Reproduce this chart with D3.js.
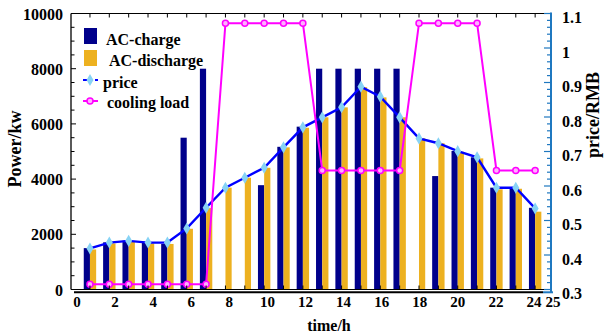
<!DOCTYPE html>
<html>
<head>
<meta charset="utf-8">
<script src="https://cdn.jsdelivr.net/npm/d3@7"></script>
<style>
  body { margin: 0; background: #fff; }
  svg text { font-family: "Liberation Serif", "Times New Roman", serif; font-weight: bold; }
</style>
</head>
<body>
<div id="chart"></div>
<script>
// data
const hours = d3.range(1, 25);
const acCharge = [1500, 1710, 1770, 1710, 1650, 5500, 8000, 0, 0, 3780, 5170, 5900,
  8000, 8000, 8000, 8000, 8000, 0, 4110, 5020, 4790, 3690, 3690, 2960];
const acDischarge = [1450, 1670, 1730, 1670, 1650, 2200, 2950, 3690, 4050, 4410, 5150, 5860,
  6240, 6600, 7330, 6960, 6240, 5480, 5300, 4990, 4750, 3630, 3650, 2820];
const price = [0.419, 0.436, 0.441, 0.436, 0.436, 0.477, 0.537, 0.595, 0.624, 0.653, 0.712, 0.770,
  0.799, 0.828, 0.888, 0.859, 0.799, 0.738, 0.724, 0.701, 0.683, 0.595, 0.595, 0.535];
const coolingLoad = [0.315, 0.315, 0.315, 0.315, 0.315, 0.315, 0.315, 1.072, 1.072, 1.072, 1.072, 1.072,
  0.645, 0.645, 0.645, 0.645, 0.645, 1.072, 1.072, 1.072, 1.072, 0.645, 0.645, 0.645];
const xTicks = [0, 2, 4, 6, 8, 10, 12, 14, 16, 18, 20, 22, 24, 25];
const yTicks = [0, 2000, 4000, 6000, 8000, 10000];
const y2Ticks = [0.3, 0.4, 0.5, 0.6, 0.7, 0.8, 0.9, 1, 1.1];
const legendItems = ['AC-charge', 'AC-discharge', 'price', 'cooling load'];

const W = 608, H = 336;
const pLeft = 71, pRight = 551, pTop = 13.5, pBottom = 289.5;

const svg = d3.select('#chart').append('svg').attr('width', W).attr('height', H);

const x = d3.scaleLinear().domain([0, 25]).range([70.6, 554.5]);
const xLab = d3.scaleLinear().domain([0, 25]).range([77, 553]);
const y = d3.scaleLinear().domain([0, 10000]).range([pBottom, pTop]);
const y2 = d3.scaleLinear().domain([0.3, 1.1]).range([pBottom, pTop]);

const navy = '#00008b', orange = '#edb120', blue = '#0000ff', cyan = '#87d3f5',
  magenta = '#ff00ff', axisBlue = '#1f78c0';
const barW = 6.2;

// bars
svg.append('g').selectAll('rect').data(hours)
  .enter().append('rect')
  .attr('x', (d) => x(d) - barW).attr('width', barW)
  .attr('y', (d, i) => y(acCharge[i])).attr('height', (d, i) => pBottom - y(acCharge[i]))
  .attr('fill', navy);

svg.append('g').selectAll('rect').data(hours)
  .enter().append('rect')
  .attr('x', (d) => x(d)).attr('width', barW)
  .attr('y', (d, i) => y(acDischarge[i])).attr('height', (d, i) => pBottom - y(acDischarge[i]))
  .attr('fill', orange);

// price line
const priceLine = d3.line().x((d) => x(d)).y((d, i) => y2(price[i]));
svg.append('path').datum(hours).attr('d', priceLine)
  .attr('fill', 'none').attr('stroke', blue).attr('stroke-width', 2.4);
const diamond = d3.symbol().type(d3.symbolDiamond).size(42);
svg.append('g').selectAll('path').data(hours)
  .enter().append('path')
  .attr('d', diamond)
  .attr('transform', (d, i) => `translate(${x(d)},${y2(price[i])})`)
  .attr('fill', cyan);

// cooling load
const coolLine = d3.line().x((d) => x(d)).y((d, i) => y2(coolingLoad[i]));
svg.append('path').datum(hours).attr('d', coolLine)
  .attr('fill', 'none').attr('stroke', magenta).attr('stroke-width', 2);
svg.append('g').selectAll('circle').data(hours)
  .enter().append('circle')
  .attr('cx', (d) => x(d)).attr('cy', (d, i) => y2(coolingLoad[i]))
  .attr('r', 3).attr('fill', '#ffb0ff').attr('stroke', magenta).attr('stroke-width', 1.5);

// frame
svg.append('line').attr('x1', pLeft).attr('x2', pRight).attr('y1', pTop).attr('y2', pTop)
  .attr('stroke', '#000').attr('stroke-width', 1);
svg.append('line').attr('x1', pLeft).attr('x2', pLeft).attr('y1', pTop).attr('y2', pBottom)
  .attr('stroke', '#000').attr('stroke-width', 1.3);
svg.append('line').attr('x1', pLeft).attr('x2', pRight).attr('y1', pBottom).attr('y2', pBottom)
  .attr('stroke', '#000').attr('stroke-width', 1);
svg.append('line').attr('x1', 74).attr('x2', 543).attr('y1', 292.3).attr('y2', 292.3)
  .attr('stroke', '#000').attr('stroke-width', 2);
svg.append('line').attr('x1', 543).attr('x2', 553).attr('y1', 292.3).attr('y2', 292.3)
  .attr('stroke', axisBlue).attr('stroke-width', 2);
svg.append('line').attr('x1', pRight).attr('x2', pRight).attr('y1', pTop - 1).attr('y2', 292)
  .attr('stroke', axisBlue).attr('stroke-width', 2);

// top and bottom hour ticks (inward)
const hourTicks = d3.range(1, 25);
svg.append('g').selectAll('line').data(hourTicks).enter().append('line')
  .attr('x1', (d) => x(d)).attr('x2', (d) => x(d)).attr('y1', pTop).attr('y2', pTop + 4)
  .attr('stroke', '#000');
svg.append('g').selectAll('line').data(hourTicks).enter().append('line')
  .attr('x1', (d) => x(d)).attr('x2', (d) => x(d)).attr('y1', pBottom).attr('y2', pBottom - 4)
  .attr('stroke', '#000');

// left ticks
svg.append('g').selectAll('line').data(d3.range(0, 10001, 500)).enter().append('line')
  .attr('x1', pLeft).attr('x2', (d) => pLeft + (d % 2000 === 0 ? 5 : 3.5))
  .attr('y1', (d) => y(d)).attr('y2', (d) => y(d))
  .attr('stroke', '#000');
svg.append('g').selectAll('text').data(yTicks).enter().append('text')
  .attr('x', 63).attr('y', (d) => y(d) + 6).attr('text-anchor', 'end')
  .attr('font-size', 16).text((d) => d);

// right ticks
svg.append('g').selectAll('line').data(d3.range(0, 41)).enter().append('line')
  .attr('x1', pRight).attr('x2', (d) => pRight - (d % 5 === 0 ? 7 : 4))
  .attr('y1', (d) => y2(0.3 + d * 0.02)).attr('y2', (d) => y2(0.3 + d * 0.02))
  .attr('stroke', axisBlue).attr('stroke-width', 1.2);
svg.append('g').selectAll('text').data(y2Ticks).enter().append('text')
  .attr('x', 562).attr('y', (d) => y2(d) + 9.5)
  .attr('font-size', 16).text((d) => d);

// bottom labels
svg.append('g').selectAll('text').data(xTicks).enter().append('text')
  .attr('x', (d) => xLab(d)).attr('y', 307).attr('text-anchor', 'middle')
  .attr('font-size', 15).text((d) => d);

svg.append('text').attr('x', 329).attr('y', 331).attr('text-anchor', 'middle')
  .attr('font-size', 16).text('time/h');
svg.append('text').attr('transform', 'translate(21,149) rotate(-90)').attr('text-anchor', 'middle')
  .attr('font-size', 18).text('Power/kw');
svg.append('text').attr('transform', 'translate(599,115) rotate(-90)').attr('text-anchor', 'middle')
  .attr('font-size', 18).text('price/RMB');

// legend
const lg = svg.append('g').attr('font-size', 16);
lg.append('rect').attr('x', 84).attr('y', 28).attr('width', 13).attr('height', 16).attr('fill', navy);
lg.append('rect').attr('x', 84).attr('y', 50).attr('width', 13).attr('height', 16).attr('fill', orange);
lg.append('line').attr('x1', 83).attr('x2', 98).attr('y1', 80).attr('y2', 80)
  .attr('stroke', blue).attr('stroke-width', 2).attr('stroke-dasharray', '4,2');
lg.append('path').attr('d', diamond).attr('transform', 'translate(90,80)').attr('fill', cyan);
lg.append('line').attr('x1', 83).attr('x2', 98).attr('y1', 101).attr('y2', 101)
  .attr('stroke', magenta).attr('stroke-width', 2);
lg.append('circle').attr('cx', 90).attr('cy', 101).attr('r', 3)
  .attr('fill', '#ffb0ff').attr('stroke', magenta).attr('stroke-width', 1.5);
const lx = [106, 109, 103, 107];
const ly = [45, 66, 88, 108];
lg.selectAll('text').data(legendItems).enter().append('text')
  .attr('x', (d, i) => lx[i]).attr('y', (d, i) => ly[i]).text((d) => d);
</script>
</body>
</html>
